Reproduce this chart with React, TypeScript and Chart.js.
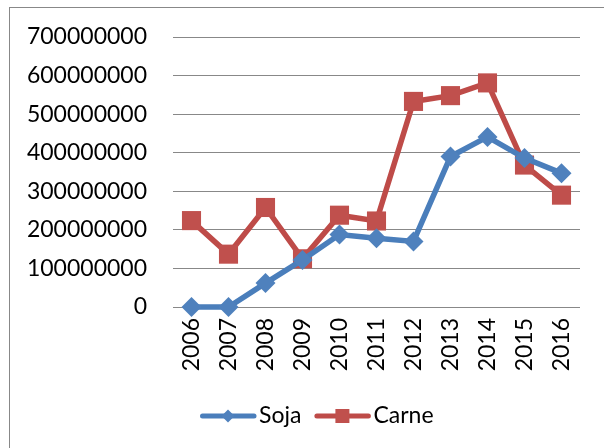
import React, { useEffect, useRef } from "react";
import { Chart, registerables } from "chart.js";

Chart.register(...registerables);

const years = ["2006", "2007", "2008", "2009", "2010", "2011", "2012", "2013", "2014", "2015", "2016"];
const soja = [0, 0, 62000000, 122000000, 188000000, 178000000, 170000000, 390000000, 441000000, 386000000, 347000000];
const carne = [224000000, 137000000, 258000000, 125000000, 238000000, 223000000, 533000000, 548000000, 581000000, 368000000, 290000000];
const seriesNames = ["Soja", "Carne"];
const yMin = 0;
const yMax = 700000000;
const yStep = 100000000;

const FONT = "Lato, 'Liberation Sans', sans-serif";

const legendPlugin = {
  id: "excelLegend",
  afterDraw(chart: any) {
    const ctx = chart.ctx as CanvasRenderingContext2D;
    const y = 416;
    let x = 200;
    chart.data.datasets.forEach((ds: any) => {
      ctx.save();
      ctx.strokeStyle = ds.borderColor;
      ctx.lineWidth = 5;
      ctx.lineCap = "round";
      ctx.beginPath();
      ctx.moveTo(x + 2.5, y);
      ctx.lineTo(x + 54, y);
      ctx.stroke();
      const cx = x + 28;
      ctx.fillStyle = ds.pointBackgroundColor;
      ctx.beginPath();
      if (ds.pointStyle === "rectRot") {
        const r = 6.5;
        ctx.moveTo(cx, y - r);
        ctx.lineTo(cx + r, y);
        ctx.lineTo(cx, y + r);
        ctx.lineTo(cx - r, y);
        ctx.closePath();
      } else {
        ctx.rect(cx - 7, y - 7, 14, 14);
      }
      ctx.fill();
      ctx.fillStyle = "#000";
      ctx.font = "23px " + FONT;
      ctx.textBaseline = "middle";
      ctx.textAlign = "left";
      ctx.fillText(ds.label, x + 59, y);
      x += 59 + ctx.measureText(ds.label).width + 13;
      ctx.restore();
    });
  },
};

export default function App() {
  const ref = useRef<HTMLCanvasElement | null>(null);

  useEffect(() => {
    if (!ref.current) return;
    const chart = new Chart(ref.current, {
      type: "line",
      data: {
        labels: years,
        datasets: [
          {
            label: seriesNames[0],
            data: soja,
            borderColor: "#4A7EBB",
            backgroundColor: "#4F81BD",
            pointBackgroundColor: "#4F81BD",
            pointBorderColor: "#4A7EBB",
            pointBorderWidth: 0,
            pointStyle: "rectRot",
            pointRadius: 10,
            borderWidth: 5.5,
            tension: 0,
            clip: false,
          },
          {
            label: seriesNames[1],
            data: carne,
            borderColor: "#BE4B48",
            backgroundColor: "#C0504D",
            pointBackgroundColor: "#C0504D",
            pointBorderColor: "#BE4B48",
            pointBorderWidth: 0,
            pointStyle: "rect",
            pointRadius: 13.5,
            borderWidth: 5.5,
            tension: 0,
            clip: false,
          },
        ],
      },
      options: {
        responsive: false,
        animation: false,
        layout: { autoPadding: false, padding: { left: 0, top: 37, right: 24, bottom: 0 } },
        plugins: {
          legend: { display: false },
          tooltip: { enabled: false },
        },
        scales: {
          x: {
            grid: { display: false, drawTicks: false },
            border: { display: false },
            offset: true,
            ticks: {
              autoSkip: false,
              minRotation: 90,
              maxRotation: 90,
              padding: 11,
              color: "#000",
              font: { family: FONT, size: 23 },
            },
            afterFit: (scale: any) => {
              scale.height = 141;
            },
          },
          y: {
            min: yMin,
            max: yMax,
            grid: { color: "#888888", lineWidth: 1, drawTicks: false },
            border: { display: false },
            ticks: {
              stepSize: yStep,
              padding: 26,
              color: "#000",
              font: { family: FONT, size: 23 },
              callback: (v: any) => String(v),
            },
            afterFit: (scale: any) => {
              scale.width = 173;
              scale.paddingTop = 0;
              scale.paddingBottom = 0;
            },
          },
        },
      },
      plugins: [legendPlugin],
    });
    return () => chart.destroy();
  }, []);

  return (
    <div style={{ position: "absolute", left: 0, top: 0, width: 604, height: 448, overflow: "hidden", background: "#fff" }}>
      <div
        style={{
          position: "absolute",
          left: 9,
          top: 7,
          width: 595,
          height: 441,
          borderLeft: "1px solid #888",
          borderTop: "1px solid #888",
          boxSizing: "border-box",
        }}
      />
      <canvas ref={ref} width={604} height={448} style={{ position: "absolute", left: 0, top: 0 }} />
    </div>
  );
}
